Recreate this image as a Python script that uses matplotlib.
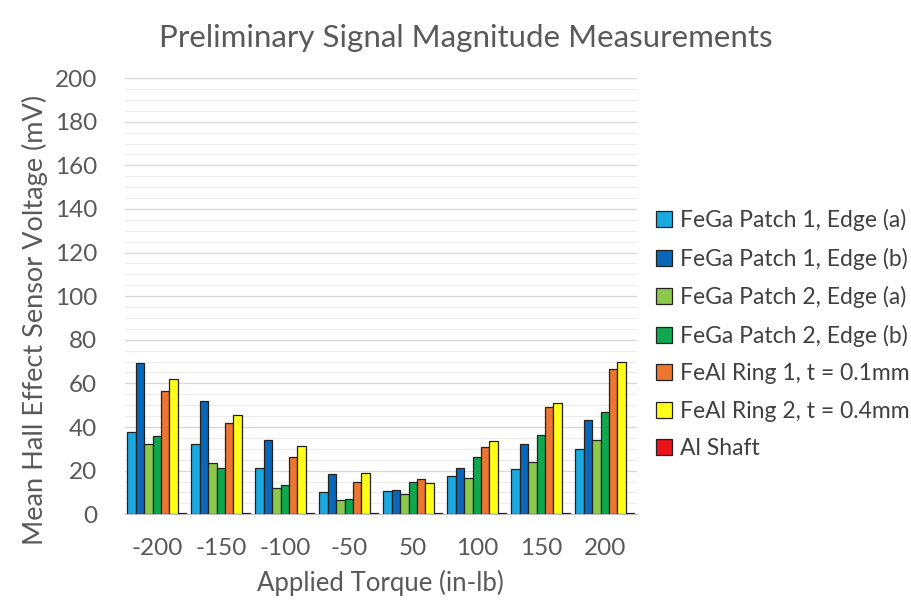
import matplotlib
matplotlib.use("Agg")
import matplotlib.pyplot as plt
import numpy as np

plt.rcParams['font.family'] = ['Lato', 'DejaVu Sans']

torques = ['-200', '-150', '-100', '-50', '50', '100', '150', '200']
series_names = ['FeGa Patch 1, Edge (a)', 'FeGa Patch 1, Edge (b)',
                'FeGa Patch 2, Edge (a)', 'FeGa Patch 2, Edge (b)',
                'FeAl Ring 1, t = 0.1mm', 'FeAl Ring 2, t = 0.4mm', 'Al Shaft']
patch1_a = [37.5, 32, 21, 10, 10.5, 17.7, 20.8, 29.7]
patch1_b = [69.5, 52, 34, 18.3, 11.3, 21.4, 32.1, 43]
patch2_a = [32.3, 23.5, 12, 6.6, 9.3, 16.5, 24, 34.1]
patch2_b = [36.1, 21.1, 13.3, 7.2, 14.7, 26.3, 36.2, 46.8]
ring1 = [56.7, 41.9, 26.1, 14.7, 16, 30.9, 49.2, 66.8]
ring2 = [62.2, 45.7, 31.2, 19.1, 14.2, 33.6, 51.1, 69.9]
al_shaft = [0.6, 0.6, 0.6, 0.6, 0.6, 0.6, 0.6, 0.6]

series = [patch1_a, patch1_b, patch2_a, patch2_b, ring1, ring2, al_shaft]
colors = ['#1AA8E0', '#0A67B8', '#8CC84B', '#10A84E', '#EC7630', '#FFFF1A', '#E8141A']

fig = plt.figure(figsize=(9.11, 6.10), dpi=100)
ax = fig.add_axes([0.137, 0.157, 0.562, 0.715])

x = np.arange(len(torques))
n = len(series)
w = 0.925 / n
for i, (vals, c, name) in enumerate(zip(series, colors, series_names)):
    ax.bar(x - 0.4625 + w * (i + 0.5), vals, width=w, color=c, edgecolor='#222222',
           linewidth=0.9, label=name, zorder=3)

ax.set_xlim(-0.5, len(torques) - 0.5)
ax.set_ylim(0, 200)
ax.set_yticks(np.arange(0, 201, 20))
ax.set_yticks(np.arange(0, 201, 5), minor=True)
ax.set_xticks(x)
ax.set_xticklabels(torques)
ax.grid(axis='y', which='major', color='#d9d9d9', linewidth=1.0, zorder=0)
ax.grid(axis='y', which='minor', color='#ececec', linewidth=0.8, zorder=0)
for s in ['top', 'right', 'left']:
    ax.spines[s].set_visible(False)
ax.spines['bottom'].set_color('#bfbfbf')
ax.tick_params(axis='both', which='both', length=0, labelsize=17.5, colors='#595959')
ax.tick_params(axis='x', pad=17)
ax.tick_params(axis='y', pad=20)

fig.text(466 / 911, 1 - 38 / 610, 'Preliminary Signal Magnitude Measurements',
         fontsize=22.5, color='#595959', ha='center', va='center')
ax.set_xlabel('Applied Torque (in-lb)', fontsize=18.5, color='#595959', labelpad=8)
ax.set_ylabel('Mean Hall Effect Sensor Voltage (mV)', fontsize=19.5, color='#595959')
ax.yaxis.set_label_coords(-0.15, 0.445)

leg = ax.legend(loc='center left', bbox_to_anchor=(1.02, 0.413), frameon=False,
                fontsize=16.5, handlelength=0.7, handleheight=0.7,
                handletextpad=0.35, labelspacing=0.72, borderaxespad=0)
for t in leg.get_texts():
    t.set_color('#404040')

fig.savefig('out.png', dpi=100)
